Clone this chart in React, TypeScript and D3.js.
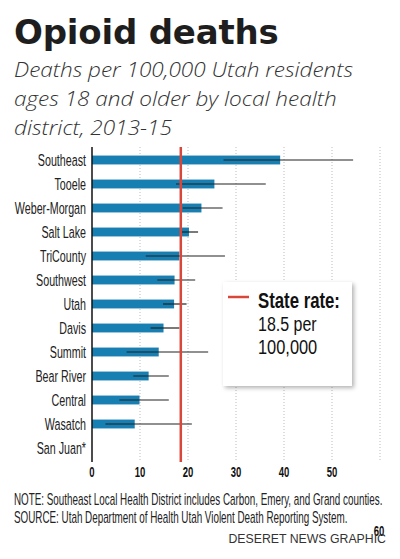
import React from 'react';
import * as d3 from 'd3';

const districts = ["Southeast", "Tooele", "Weber-Morgan", "Salt Lake", "TriCounty", "Southwest", "Utah", "Davis", "Summit", "Bear River", "Central", "Wasatch", "San Juan*"];
const rates = [39.2, 25.5, 22.8, 20.2, 18.2, 17.2, 17.1, 14.9, 13.9, 11.8, 9.9, 8.9, null];
const lows = [27.4, 17.5, 18.9, 18.5, 11.2, 13.6, 14.8, 12.2, 7.2, 8.6, 5.7, 2.8, null];
const highs = [54.4, 36.2, 27.2, 22.1, 27.7, 21.5, 19.7, 18.2, 24.2, 16.0, 16.0, 20.8, null];
const tickValues = [0, 10, 20, 30, 40, 50, 60];
const stateRate = 18.5;

// no condensed face installed, so squeeze Liberation Sans horizontally
const cond = "'Liberation Sans', Arial, sans-serif";

type CTextProps = {
  x: number; y: number; sx: number; size: number;
  anchor?: 'start' | 'middle' | 'end'; bold?: boolean; fill?: string; children: React.ReactNode;
};

const CText = ({ x, y, sx, size, anchor = 'start', bold = false, fill = '#222', children }: CTextProps) => (
  <text transform={`translate(${x},${y}) scale(${sx},1)`} textAnchor={anchor} fontFamily={cond}
    fontWeight={bold ? 'bold' : 'normal'} fontSize={size} fill={fill}>{children}</text>
);

const App: React.FC = () => {
  const width = 400;
  const height = 559;
  const top = 147;
  const bottom = 462;

  const x = d3.scaleLinear().domain([0, 60]).range([92, 380]);
  const y = d3.scaleBand<string>()
    .domain(districts)
    .range([148, 460])
    .paddingInner(0.63)
    .paddingOuter(0.315);

  const rows = districts.map((d, i) => ({ name: d, rate: rates[i], lo: lows[i], hi: highs[i] }));

  return (
    <svg width={width} height={height} style={{ position: 'absolute', left: 0, top: 0, background: '#fff' }}>
      <defs>
        <filter id="shadow" x="-20%" y="-20%" width="140%" height="140%">
          <feDropShadow dx="2" dy="2" stdDeviation="2" floodColor="#000" floodOpacity="0.3" />
        </filter>
      </defs>

      {/* title */}
      <text x={14} y={44} fontFamily="'DejaVu Sans', sans-serif" fontWeight="bold" fontSize={34} fill="#1e1e1e" letterSpacing={-0.2}>Opioid deaths</text>
      {["Deaths per 100,000 Utah residents", "ages 18 and older by local health", "district, 2013-15"].map((s, i) => (
        <text key={s} transform={`translate(14,${77 + i * 29}) scale(1.1,1)`} fontFamily="'Open Sans', sans-serif" fontWeight={300} fontStyle="italic" fontSize={20.5} fill="#333">{s}</text>
      ))}

      {/* grid */}
      {tickValues.filter(t => t > 0).map(t => (
        <line key={t} x1={x(t)} x2={x(t)} y1={top} y2={bottom} stroke="#bbb" strokeWidth={1} strokeDasharray="1,2" />
      ))}

      {/* bars */}
      {rows.map(r => r.rate != null && (
        <rect key={r.name} x={x(0)} y={y(r.name)!} width={x(r.rate) - x(0)} height={y.bandwidth()} fill="#177fb2" />
      ))}
      {/* error bars */}
      {rows.map(r => r.lo != null && r.hi != null && (
        <line key={r.name} x1={x(r.lo)} x2={x(r.hi)} y1={y(r.name)! + y.bandwidth() / 2} y2={y(r.name)! + y.bandwidth() / 2} stroke="#222" strokeWidth={1.2} />
      ))}

      {/* axis line */}
      <line x1={x(0)} x2={x(0)} y1={top} y2={bottom} stroke="#111" strokeWidth={1.5} />

      {/* state rate */}
      <line x1={x(stateRate)} x2={x(stateRate)} y1={top} y2={bottom} stroke="#d9473a" strokeWidth={2.5} />

      {/* category labels */}
      {districts.map(d => (
        <CText key={d} x={86} y={y(d)! + y.bandwidth() / 2 + 5.5} sx={0.63} size={17} anchor="end">{d}</CText>
      ))}

      {/* tick labels */}
      {tickValues.map(t => (
        <CText key={t} x={t === 60 ? x(t) - 1 : x(t)} y={t === 60 ? 536 : 477} sx={0.68} size={14} anchor="middle" bold fill="#111">{t}</CText>
      ))}

      {/* legend */}
      <rect x={223} y={282} width={129} height={104} fill="#fff" filter="url(#shadow)" />
      <line x1={228} x2={249} y1={297} y2={297} stroke="#d9473a" strokeWidth={2.5} />
      <CText x={258} y={308} sx={0.78} size={21.5} bold fill="#111">State rate:</CText>
      <CText x={258} y={331} sx={0.78} size={20.5} fill="#111">{`${stateRate} per`}</CText>
      <CText x={258} y={354} sx={0.8} size={20.5} fill="#111">100,000</CText>

      {/* notes */}
      <CText x={14} y={505} sx={0.616} size={16} fill="#222">NOTE:  Southeast Local Health District includes Carbon, Emery, and Grand counties.</CText>
      <CText x={14} y={523} sx={0.616} size={16} fill="#222">SOURCE:  Utah Department of Health Utah Violent Death Reporting System.</CText>
      <text x={386} y={543} textAnchor="end" fontFamily={cond} fontSize={12.3} fill="#333">DESERET NEWS GRAPHIC</text>
    </svg>
  );
};

export default App;
